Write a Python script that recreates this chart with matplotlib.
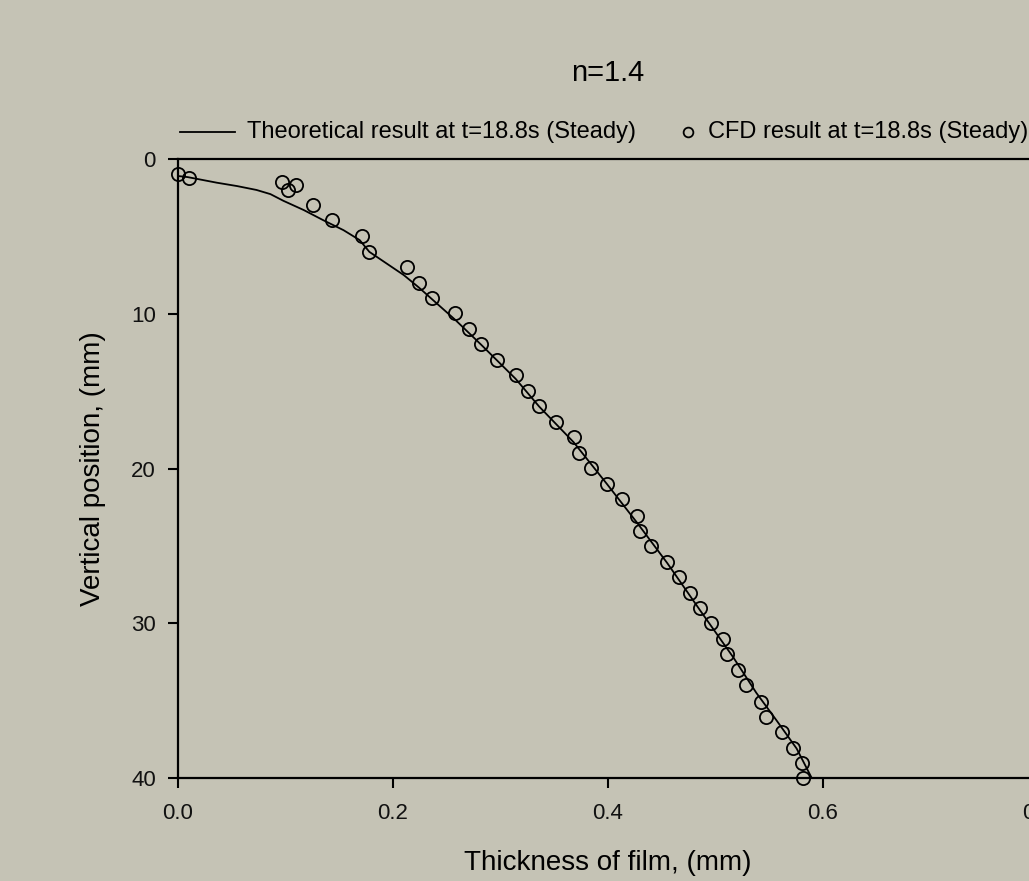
"""Film thickness profile, n=1.4: theoretical curve vs CFD points at steady state."""

import matplotlib

matplotlib.use("Agg")
import matplotlib.pyplot as plt
from matplotlib.lines import Line2D

plt.rcParams["font.family"] = ["Liberation Sans", "DejaVu Sans"]

W, H = 1029, 881
BG = "#c5c3b5"

# Theoretical result (thickness mm, vertical position mm)
theory_x = [0.000, 0.009, 0.036, 0.055, 0.073, 0.086, 0.098, 0.117, 0.135, 0.154,
            0.169, 0.178, 0.210, 0.224, 0.258, 0.282, 0.314, 0.336, 0.368, 0.399,
            0.427, 0.455, 0.486, 0.5165, 0.538, 0.557, 0.5755, 0.5895]
theory_y = [1.10, 1.17, 1.53, 1.75, 2.00, 2.27, 2.70, 3.30, 3.95, 4.60,
            5.24, 6.00, 7.50, 8.30, 10.40, 12.00, 14.20, 16.00, 18.30, 21.00,
            23.50, 26.10, 29.20, 32.20, 34.50, 36.30, 38.10, 40.00]

# CFD result
cfd_x = [0.000, 0.010, 0.0965, 0.102, 0.1095, 0.126, 0.143, 0.171, 0.178, 0.213,
         0.224, 0.236, 0.258, 0.271, 0.282, 0.297, 0.314, 0.326, 0.336, 0.352,
         0.368, 0.373, 0.384, 0.399, 0.413, 0.427, 0.430, 0.440, 0.455, 0.466,
         0.476, 0.486, 0.496, 0.507, 0.511, 0.521, 0.528, 0.542, 0.547, 0.562,
         0.572, 0.580, 0.581]
cfd_y = [0.97, 1.23, 1.47, 2.00, 1.70, 2.98, 3.95, 4.96, 6.00, 6.97,
         8.00, 8.97, 9.97, 11.00, 11.93, 13.00, 13.98, 15.00, 15.99, 17.00,
         17.97, 19.00, 19.98, 20.99, 21.96, 23.04, 24.01, 24.98, 26.02, 27.03,
         28.03, 29.02, 30.01, 31.00, 31.99, 33.00, 34.00, 35.06, 36.05, 37.02,
         38.04, 39.05, 40.00]

x_ticks = [0.0, 0.2, 0.4, 0.6, 0.8]
y_ticks = [0, 10, 20, 30, 40]

fig = plt.figure(figsize=(W / 100, H / 100), dpi=100, facecolor=BG)
ax = fig.add_axes([178 / W, 1 - 778 / H, (1038 - 178) / W, (778 - 159) / H])
ax.set_facecolor(BG)

ax.plot(theory_x, theory_y, color="black", lw=1.3, zorder=2)
ax.plot(cfd_x, cfd_y, ls="none", marker="o", ms=9.5, mfc="none", mec="black",
        mew=1.3, zorder=3, clip_on=False)

ax.set_xlim(0, 0.8)
ax.set_ylim(40, 0)
ax.set_xticks(x_ticks)
ax.set_xticklabels([f"{v:.1f}" for v in x_ticks])
ax.set_yticks(y_ticks)
ax.tick_params(direction="out", length=7, width=1.5, labelsize=16,
               colors="black", labelcolor="#111111")
ax.tick_params(axis="x", pad=11)
ax.tick_params(axis="y", pad=9)
for side in ["left", "bottom", "top", "right"]:
    ax.spines[side].set_linewidth(1.6)

ax.set_xlabel("Thickness of film, (mm)", fontsize=20, labelpad=19)
ax.set_ylabel("Vertical position, (mm)", fontsize=20, labelpad=18)

fig.text(608 / W, 1 - 73 / H, "n=1.4", fontsize=21, ha="center", va="center")

# horizontal legend above the axes
ly = 1 - 132 / H
fig.add_artist(Line2D([180 / W, 235 / W], [ly, ly], color="black", lw=1.3))
fig.text(247 / W, ly, "Theoretical result at t=18.8s (Steady)", fontsize=17,
         ha="left", va="center")
fig.add_artist(Line2D([688 / W], [ly], ls="none", marker="o", ms=7,
                      mfc="none", mec="black", mew=1.3))
fig.text(708 / W, ly, "CFD result at t=18.8s (Steady)", fontsize=17,
         ha="left", va="center")

fig.savefig("out.png", dpi=100, facecolor=BG)
